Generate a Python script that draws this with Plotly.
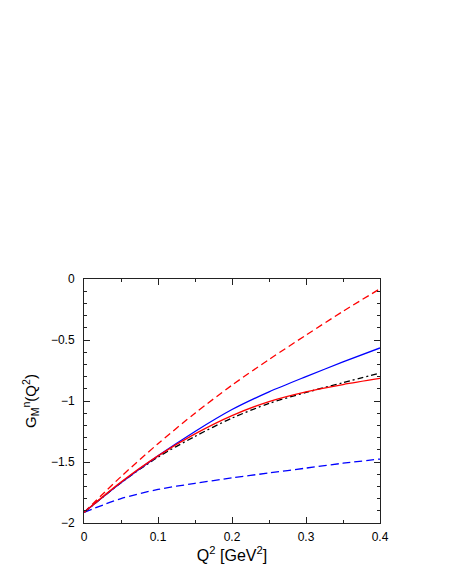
import plotly.graph_objects as go

q2 = [0.0, 0.05, 0.1, 0.15, 0.2, 0.25, 0.3, 0.35, 0.4]
red_dashed = [-1.913, -1.62, -1.35, -1.10, -0.87, -0.66, -0.46, -0.265, -0.08]
blue_solid = [-1.913, -1.67, -1.45, -1.25, -1.07, -0.925, -0.80, -0.68, -0.565]
black_dashdot = [-1.913, -1.67, -1.46, -1.29, -1.14, -1.02, -0.93, -0.85, -0.77]
red_solid = [-1.913, -1.665, -1.45, -1.27, -1.12, -1.005, -0.925, -0.865, -0.815]
blue_dashed = [-1.913, -1.80, -1.725, -1.675, -1.63, -1.59, -1.55, -1.51, -1.476]

x_ticks = [0, 0.1, 0.2, 0.3, 0.4]
x_labels = ["0", "0.1", "0.2", "0.3", "0.4"]
y_ticks = [-2, -1.5, -1, -0.5, 0]
y_labels = ["\u22122", "\u22121.5", "\u22121", "\u22120.5", "0"]

fig = go.Figure()
series = [
    (red_dashed, "#ff0000", "7px,4px"),
    (blue_dashed, "#0000ff", "8px,4px"),
    (black_dashdot, "#000000", "6px,3px,2px,3px"),
    (blue_solid, "#0000ff", "solid"),
    (red_solid, "#ff0000", "solid"),
]
for ys, col, dash in series:
    fig.add_trace(go.Scatter(x=q2, y=ys, mode="lines",
                             line=dict(color=col, width=1.3, dash=dash, shape="spline", smoothing=0.8),
                             showlegend=False, hoverinfo="skip"))

axis_common = dict(showline=True, linecolor="#222222", linewidth=1, mirror="ticks",
                   ticks="inside", ticklen=6, tickcolor="#222222", showgrid=False,
                   zeroline=False, tickfont=dict(size=12, color="#000000"))

fig.update_xaxes(range=[0, 0.4], tickvals=x_ticks, ticktext=x_labels, ticklabelstandoff=3,
                 minor=dict(ticks="inside", ticklen=3, dtick=0.05, tickcolor="#222222", showgrid=False),
                 title=dict(text="Q<sup>2</sup> [GeV<sup>2</sup>]", font=dict(size=16, color="#000000"), standoff=4),
                 **axis_common)
fig.update_yaxes(range=[-2, 0], tickvals=y_ticks, ticktext=y_labels, ticklabelstandoff=6,
                 minor=dict(ticks="inside", ticklen=3, dtick=0.1, tickcolor="#222222", showgrid=False),
                 title=dict(text="G<sub>M</sub><sup>n</sup>(Q<sup>2</sup>)", font=dict(size=15, color="#000000"), standoff=10),
                 **axis_common)

fig.update_layout(width=449, height=581,
                  margin=dict(l=76, r=77, t=271, b=66, autoexpand=False),
                  paper_bgcolor="white", plot_bgcolor="white",
                  font=dict(family="Liberation Sans, Arial, sans-serif", color="#000000"))

fig.write_html("out.html")
